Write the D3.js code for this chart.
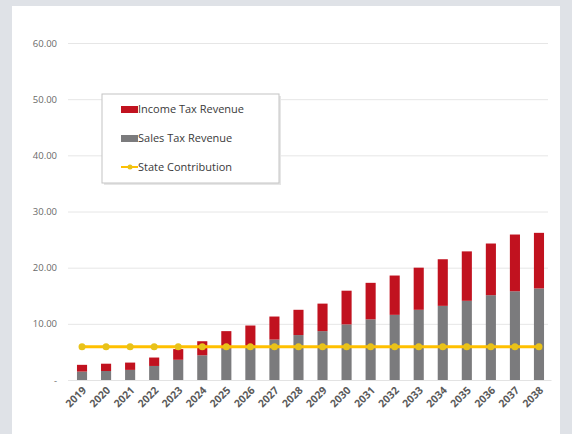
<!DOCTYPE html>
<html><head><meta charset="utf-8">
<script src="https://cdn.jsdelivr.net/npm/d3@7/dist/d3.min.js"></script>
<style>
html,body{margin:0;padding:0;background:#dfe2e7;}
svg{display:block;}
</style></head>
<body>
<svg id="c" width="572" height="434"></svg>
<script>
const years = ["2019","2020","2021","2022","2023","2024","2025","2026","2027","2028","2029","2030","2031","2032","2033","2034","2035","2036","2037","2038"];
const salesTax = [1.5,1.6,1.8,2.5,3.6,4.4,5.6,6.0,7.2,8.0,8.7,9.9,10.8,11.6,12.5,13.2,14.1,15.1,15.8,16.3];
const incomeTax = [1.2,1.3,1.3,1.5,1.9,2.5,3.1,3.7,4.1,4.5,4.9,6.0,6.5,7.0,7.5,8.3,8.8,9.2,10.1,9.9];
const stateContribution = [5.9,5.9,5.9,5.9,5.9,5.9,5.9,5.9,5.9,5.9,5.9,5.9,5.9,5.9,5.9,5.9,5.9,5.9,5.9,5.9];
const yTicks = [0,10,20,30,40,50,60];
const seriesNames = ["Income Tax Revenue","Sales Tax Revenue","State Contribution"];

const RED="#c1121f", GRAY="#7b7b7d", GOLD="#ffc000";
const svg = d3.select("#c");
svg.append("rect").attr("x",12).attr("y",6).attr("width",548).attr("height",428).attr("fill","#ffffff");

const x = d3.scaleBand().domain(years).range([70,551]).paddingInner(0.58).paddingOuter(0.29);
const y = d3.scaleLinear().domain([0,60]).range([380,43]);

// grid
const gAxis = svg.append("g").attr("transform","translate(68,0)")
  .call(d3.axisLeft(y).tickValues(yTicks).tickSize(-480).tickPadding(11)
    .tickFormat(d => d===0 ? "-" : d3.format(".2f")(d)));
gAxis.select(".domain").remove();
gAxis.selectAll(".tick line").attr("stroke","#e6e6e6").attr("stroke-width",1);
gAxis.selectAll(".tick text").attr("fill","#6a6a6a").style("font-family","'Open Sans',sans-serif").style("font-size","9.5px");

// stacked bars
const stackData = years.map((yr,i)=>({year:yr, sales:salesTax[i], income:incomeTax[i]}));
const stack = d3.stack().keys(["sales","income"])(stackData);
const colors = {sales:GRAY, income:RED};
svg.append("g").selectAll("g").data(stack).join("g").attr("fill",d=>colors[d.key])
  .selectAll("rect").data(d=>d).join("rect")
  .attr("x",d=>x(d.data.year)).attr("width",x.bandwidth())
  .attr("y",d=>y(d[1])).attr("height",d=>y(d[0])-y(d[1]));

// x axis labels
const gx = svg.append("g").attr("transform","translate(0,380)")
  .call(d3.axisBottom(x).tickSize(0).tickPadding(0));
gx.select(".domain").attr("stroke","#e3e3e3");
gx.selectAll(".tick text")
  .attr("text-anchor","end").attr("dy","0").attr("y",0)
  .attr("transform","translate(5,11) rotate(-45)")
  .attr("fill","#5a5a5a").style("font-family","'Open Sans',sans-serif").style("font-size","10.5px").style("font-weight","bold");

// state contribution line
const cx = d => x(d) + x.bandwidth()/2;
const line = d3.line().x((d,i)=>cx(years[i])).y(d=>y(d));
svg.append("path").datum(stateContribution).attr("d",line).attr("fill","none").attr("stroke",GOLD).attr("stroke-width",3);
svg.append("g").selectAll("circle").data(stateContribution).join("circle")
  .attr("cx",(d,i)=>cx(years[i])).attr("cy",d=>y(d)).attr("r",3.5).attr("fill","#e8c21a");

// legend
const lg = svg.append("g");
lg.append("rect").attr("x",104).attr("y",96).attr("width",177).attr("height",89).attr("fill","#e6e6e6");
lg.append("rect").attr("x",102).attr("y",94).attr("width",177).attr("height",89).attr("fill","#ffffff").attr("stroke","#c4c4c4").attr("stroke-width",1);
const ly = [109,138,167];
lg.append("rect").attr("x",121).attr("y",ly[0]-3).attr("width",17).attr("height",7).attr("fill",RED);
lg.append("rect").attr("x",121).attr("y",ly[1]-3).attr("width",17).attr("height",7).attr("fill",GRAY);
lg.append("line").attr("x1",121).attr("x2",138).attr("y1",ly[2]).attr("y2",ly[2]).attr("stroke",GOLD).attr("stroke-width",2);
lg.append("circle").attr("cx",130).attr("cy",ly[2]).attr("r",2.5).attr("fill","#e8c21a");
lg.selectAll("text").data(seriesNames).join("text")
  .attr("x",138).attr("y",(d,i)=>ly[i]+4).text(d=>d)
  .attr("fill","#3a3a3a").style("font-family","'Open Sans',sans-serif").style("font-size","11px");
</script>
</body></html>
